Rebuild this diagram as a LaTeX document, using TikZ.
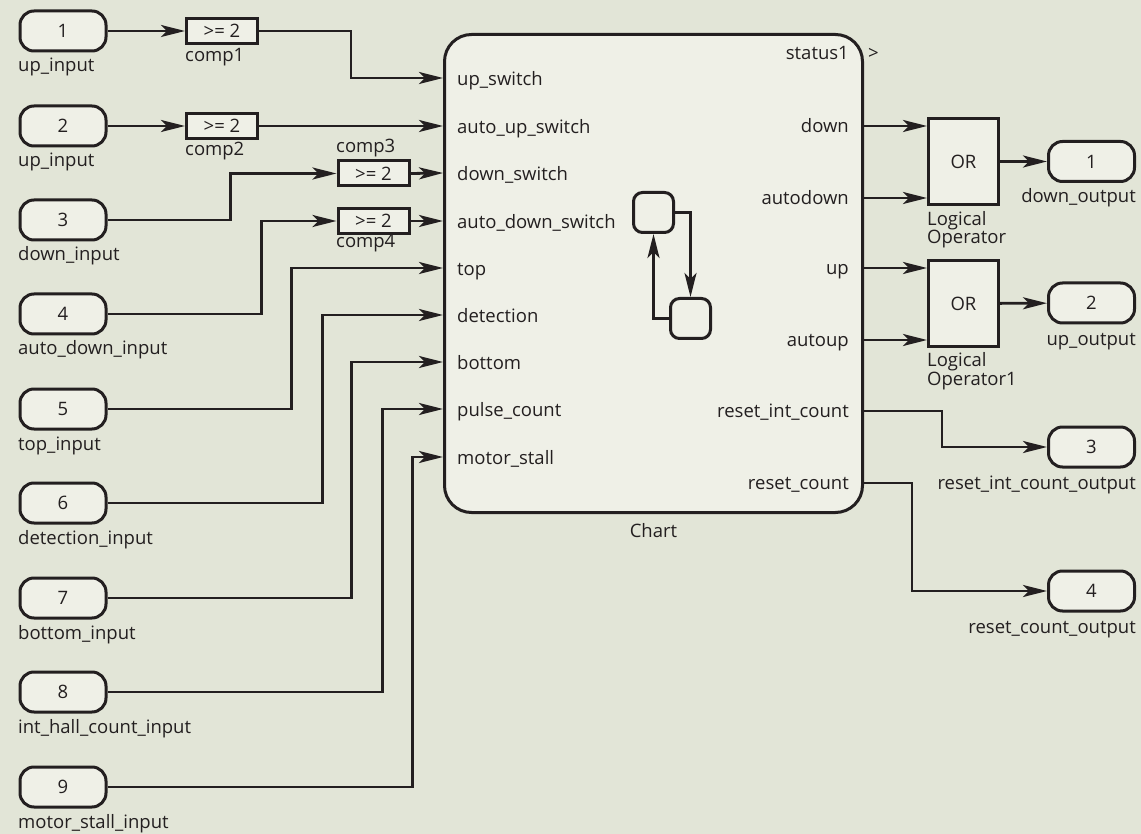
\documentclass[tikz,border=0pt]{standalone}
\usepackage{fontspec}
\setmainfont{Open Sans}
\usetikzlibrary{arrows.meta,positioning}
\definecolor{bgcol}{HTML}{E2E5D7}
\definecolor{blockcol}{HTML}{EFF0E7}
\definecolor{inkcol}{HTML}{231F20}

\begin{document}
\begin{tikzpicture}[
                x=1pt, y=-1pt,
                font=\fontsize{18.5}{18.5}\selectfont,
                every node/.style={text=inkcol},
                blockbase/.style={draw=inkcol, fill=blockcol, line width=3pt, inner sep=0pt},
                port/.style={blockbase, rounded corners=14pt, minimum width=86pt, minimum height=40pt},
                compbox/.style={blockbase, minimum width=71pt, minimum height=25pt},
                orbox/.style={blockbase, minimum width=70pt, minimum height=86pt},
                statebox/.style={blockbase, rounded corners=9pt, minimum size=40pt},
                chartbox/.style={blockbase, rounded corners=27pt, minimum width=418pt, minimum height=478pt},
                tag/.style={inner sep=0pt, anchor=base west},
                rtag/.style={inner sep=0pt, anchor=base east},
                wire/.style={draw=inkcol, line width=2.8pt},
                arrow/.style={wire, -{Stealth[length=24pt, width=12pt, inset=6pt]}}
            ]

            \useasboundingbox (0,0) rectangle (1141,834);
            \fill[bgcol] (0,0) rectangle (1141,834);

            % inports
            \foreach \n/\y/\name in {1/31/up\_input, 2/126/up\_input, 3/220/down\_input,
                    4/314/auto\_down\_input, 5/409/top\_input, 6/503/detection\_input,
                    7/598/bottom\_input, 8/692/int\_hall\_count\_input, 9/787/motor\_stall\_input} {
                \node[port] (in\n) at (63,\y) {\n};
                \node[tag] (in\n-lbl) at (18,\y+41) {\name};
            }

            % comparators
            \node[compbox] (comp1) at (222,31) {>= 2};
            \node[tag] (comp1-lbl) at (185,62) {comp1};
            \node[compbox] (comp2) at (222,126) {>= 2};
            \node[tag] (comp2-lbl) at (185,156) {comp2};
            \node[compbox] (comp3) at (373.5,173.5) {>= 2};
            \node[tag] (comp3-lbl) at (336,153) {comp3};
            \node[compbox] (comp4) at (373.5,221) {>= 2};
            \node[tag] (comp4-lbl) at (336,248) {comp4};

            % chart
            \node[chartbox] (chart) at (653.5,273.5) {};
            \node[inner sep=0pt, anchor=base] (chart-lbl) at (653.5,537) {Chart};
            \foreach \id/\y/\name in {upsw/78/up\_switch, autoupsw/126/auto\_up\_switch,
                    downsw/173/down\_switch, autodownsw/221/auto\_down\_switch, top/268/top,
                    detect/315/detection, bottom/362/bottom, pulse/409/pulse\_count,
                    stall/457/motor\_stall} {
                \coordinate (ci-\id) at (chart.west |- 0,\y);
                \node[tag] (ci-\id-lbl) at (457,\y+7.5) {\name};
            }
            \foreach \id/\y/\name in {status/53/status1, down/126/down, autodown/198/autodown,
                    up/268/up, autoup/340/autoup, rint/411/reset\_int\_count,
                    rcount/483/reset\_count} {
                \coordinate (co-\id) at (chart.east |- 0,\y);
                \node[rtag] (co-\id-lbl) at (849,\y+6.5) {\name};
            }
            \node[tag] (status-mark) at (868,59.5) {>};

            % states inside the chart
            \node[statebox] (s1) at (653.5,212.5) {};
            \node[statebox] (s2) at (690.5,318.5) {};
            \draw[arrow] (s1.east) -| (s2.north);
            \draw[arrow] (s2.west) -| (s1.south);

            % logical operators
            \node[orbox] (or1) at (963.5,161.5) {OR};
            \node[inner sep=0pt, anchor=north west, align=left] (or1-lbl) at (927,211) {Logical\\Operator};
            \node[orbox] (or2) at (963.5,303.5) {OR};
            \node[inner sep=0pt, anchor=north west, align=left] (or2-lbl) at (927,352.5) {Logical\\Operator1};

            % outports
            \node[port] (out1) at (1091.5,161.5) {1};
            \node[rtag] (out1-lbl) at (1136,203) {down\_output};
            \node[port] (out2) at (1091.5,303) {2};
            \node[rtag] (out2-lbl) at (1136,346) {up\_output};
            \node[port] (out3) at (1091.5,447) {3};
            \node[rtag] (out3-lbl) at (1136,489.5) {reset\_int\_count\_output};
            \node[port] (out4) at (1091.5,591) {4};
            \node[rtag] (out4-lbl) at (1136,633) {reset\_count\_output};

            % wiring on the input side
            \draw[arrow] (in1) -- (comp1);
            \draw[arrow] (comp1.east) -- ++(92,0) |- (ci-upsw);
            \draw[arrow] (in2) -- (comp2);
            \draw[arrow] (comp2.east) -- (ci-autoupsw);
            \draw[arrow] (in3.east) -- ++(123,0) |- (comp3.west);
            \draw[arrow] (comp3.east) -- (ci-downsw);
            \draw[arrow] (in4.east) -- ++(154,0) |- (comp4.west);
            \draw[arrow] (comp4.east) -- (ci-autodownsw);
            \draw[arrow] (in5.east) -- ++(184,0) |- (ci-top);
            \draw[arrow] (in6.east) -- ++(215,0) |- (ci-detect);
            \draw[arrow] (in7.east) -- ++(244,0) |- (ci-bottom);
            \draw[arrow] (in8.east) -- ++(275,0) |- (ci-pulse);
            \draw[arrow] (in9.east) -- ++(305,0) |- (ci-stall);

            % wiring on the output side
            \draw[arrow] (co-down) -- (co-down -| or1.west);
            \draw[arrow] (co-autodown) -- (co-autodown -| or1.west);
            \draw[arrow] (co-up) -- (co-up -| or2.west);
            \draw[arrow] (co-autoup) -- (co-autoup -| or2.west);
            \draw[arrow] (or1) -- (out1);
            \draw[arrow] (or2) -- (out2);
            \draw[arrow] (co-rint) -- ++(78,0) |- (out3);
            \draw[arrow] (co-rcount) -- ++(48,0) |- (out4);

        \end{tikzpicture}
\end{document}
